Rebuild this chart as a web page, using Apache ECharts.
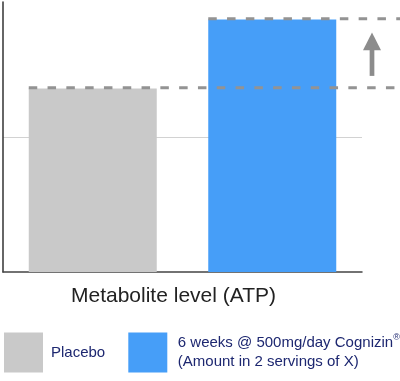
<!DOCTYPE html>
<html>
<head>
<meta charset="utf-8">
<script src="https://cdn.jsdelivr.net/npm/echarts@6/dist/echarts.min.js"></script>
<style>
html,body{margin:0;padding:0;background:#fff;}
#c{width:400px;height:381px;}
</style>
</head>
<body>
<div id="c"></div>
<script>
const categories = ['Placebo', 'Cognizin'];
const seriesNames = ['Placebo', '6 weeks @ 500mg/day Cognizin®\n(Amount in 2 servings of X)'];
const values = [1.36, 1.87];
const axisName = 'Metabolite level (ATP)';
const yTicks = [0, 1, 2];

const colors = ['#c9c9c9', '#469ef8'];
const FONT = "'Liberation Sans', Arial, sans-serif";
const NAVY = '#1d2770';

const chart = echarts.init(document.getElementById('c'), null, {renderer: 'canvas'});

function legendFmt(n) {
  return n.split('\n').map(l => '{a|' + l.replace('®', '}{s|®}{a|') + '}').join('\n');
}
const richStyle = {
  a: {fontSize: 15, color: NAVY, lineHeight: 19, fontFamily: FONT},
  s: {fontSize: 9, color: NAVY, lineHeight: 9, verticalAlign: 'top', fontFamily: FONT}
};

const option = {
  animation: false,
  grid: {left: 3, right: 38, top: 2, bottom: 109},
  xAxis: {
    type: 'category',
    data: categories,
    axisLine: {lineStyle: {color: '#444', width: 1.5}},
    axisTick: {show: false},
    axisLabel: {show: false},
    name: axisName,
    nameLocation: 'middle',
    nameGap: 14,
    nameTextStyle: {fontSize: 21, color: '#222', fontFamily: FONT, padding: [0, 18, 0, 0], verticalAlign: 'top'}
  },
  yAxis: {
    type: 'value',
    min: yTicks[0],
    max: yTicks[yTicks.length - 1],
    interval: 1,
    axisLine: {show: true, lineStyle: {color: '#333', width: 1.5}},
    axisTick: {show: false},
    axisLabel: {show: false},
    splitLine: {show: true, showMinLine: false, showMaxLine: false, lineStyle: {color: '#d2d2d2', width: 1}}
  },
  legend: [
    {
      data: [seriesNames[0]], left: 4, top: 332.5, padding: 0,
      itemWidth: 39, itemHeight: 40, icon: 'rect',
      formatter: legendFmt,
      textStyle: {rich: richStyle, padding: [0, 0, 0, 3]}
    },
    {
      data: [seriesNames[1]], left: 128.3, top: 332.5, padding: 0,
      itemWidth: 39, itemHeight: 40, icon: 'rect',
      formatter: legendFmt,
      textStyle: {rich: richStyle, padding: [0, 0, 0, 5.5]}
    }
  ],
  series: seriesNames.map((name, i) => ({
    name: name,
    type: 'bar',
    barWidth: 128,
    barGap: '-100%',
    itemStyle: {color: colors[i]},
    data: categories.map((c, j) => j === i ? values[j] : '-')
  }))
};
chart.setOption(option);

// Dashed reference lines and arrow derived from the bar values via the chart scales
const half = 64;
const pts = values.map((v, i) => chart.convertToPixel({xAxisIndex: 0, yAxisIndex: 0}, [i, v]));
const gridRight = chart.convertToPixel({xAxisIndex: 0}, 1) + (chart.convertToPixel({xAxisIndex: 0}, 1) - chart.convertToPixel({xAxisIndex: 0}, 0)) / 2;
const dashStyle = {stroke: '#939393', lineWidth: 3, lineDash: [8.5, 10.3]};
const graphics = pts.map(p => ({
  type: 'line',
  shape: {x1: p[0] - half, y1: p[1] - 0.7, x2: 400, y2: p[1] - 0.7},
  style: dashStyle,
  z: 10
}));
const yUp = pts[1][1], yLow = pts[0][1];
const cx = gridRight + 10;
const tip = yUp + 13;
const headH = 17.6;
const bottom = yLow - 12.5;
graphics.push({
  type: 'polygon',
  shape: {points: [[cx, tip], [cx - 9, tip + headH], [cx + 9, tip + headH]]},
  style: {fill: '#8c8c8c'},
  z: 10
});
graphics.push({
  type: 'rect',
  shape: {x: cx - 2.35, y: tip + headH - 0.5, width: 4.7, height: bottom - tip - headH + 0.5},
  style: {fill: '#8c8c8c'},
  z: 10
});
chart.setOption({graphic: graphics});
</script>
</body>
</html>
